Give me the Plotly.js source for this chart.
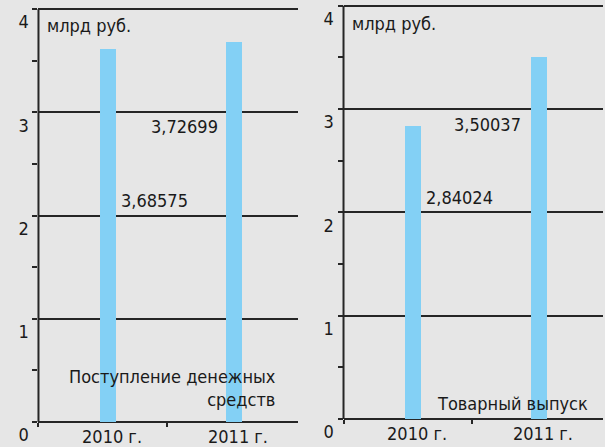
<!DOCTYPE html>
<html>
<head>
<meta charset="utf-8">
<script src="https://cdn.plot.ly/plotly-3.0.1.min.js"></script>
<style>html,body{margin:0;padding:0;background:#e6e6e6;}#chart{width:605px;height:447px;}</style>
</head>
<body>
<div id="chart"></div>
<script>
// Data
const categories = ['2010 г.', '2011 г.'];
const cashValues = [3.61, 3.68];          // drawn bar heights, млрд руб.
const cashLabels = ['3,68575', '3,72699'];
const outputValues = [2.84, 3.50];
const outputLabels = ['2,84024', '3,50037'];
const yTickVals = [0, 1, 2, 3, 4];
const yTickText = ['0', '1', '2', '3', '4'];
const unitText = 'млрд руб.';
const cashTitle = 'Поступление денежных<br>средств';
const outputTitle = 'Товарный выпуск';

const idx = categories.map((c, i) => i);
const FONT = '"DejaVu Sans Condensed", "Liberation Sans Narrow", "Roboto", sans-serif';
const TXT = '#1a1a1a';
const BAR = '#83d0f5';
const BG = '#e6e6e6';
const LINE = '#262626';

const traces = [
  {type: 'bar', x: idx, y: cashValues, width: 0.127, marker: {color: BAR}, xaxis: 'x', yaxis: 'y', hoverinfo: 'skip'},
  {type: 'bar', x: idx, y: outputValues, width: 0.127, marker: {color: BAR}, xaxis: 'x2', yaxis: 'y2', hoverinfo: 'skip'}
];

function xAx(domain, anchor, standoff) {
  return {
    domain: domain, anchor: anchor, range: [-0.552, 1.508],
    tickvals: idx, ticktext: categories, ticks: '', showgrid: false, zeroline: false,
    showline: false, ticklabelshift: 4, ticklabelstandoff: standoff,
    tickfont: {family: FONT, size: 18, color: TXT},
    minor: {tickvals: [-0.552, 0.47], ticks: 'outside', ticklen: 4, tickwidth: 2, tickcolor: LINE, showgrid: false}
  };
}
function yAx(domain, anchor) {
  return {
    domain: domain, anchor: anchor, range: [0, 4.05],
    tickvals: yTickVals, ticktext: yTickText, ticks: 'outside', ticklen: 5, tickwidth: 2, tickcolor: LINE,
    showgrid: true, gridcolor: LINE, gridwidth: 2, zeroline: true, zerolinecolor: LINE, zerolinewidth: 2,
    showline: false,
    ticklabelshift: 13, ticklabelstandoff: 0,
    tickfont: {family: FONT, size: 18, color: TXT},
    minor: {dtick: 0.5, ticks: 'outside', ticklen: 5, tickwidth: 2, tickcolor: LINE, showgrid: false}
  };
}

const annFont = {family: FONT, size: 18, color: TXT};
const annotations = [
  {xref: 'x', yref: 'y', x: -0.5, y: 3.845, text: unitText, showarrow: false, xanchor: 'left', yanchor: 'middle', font: annFont},
  {xref: 'x2', yref: 'y2', x: -0.5, y: 3.83, text: unitText, showarrow: false, xanchor: 'left', yanchor: 'middle', font: annFont},
  {xref: 'x', yref: 'y', x: idx[0], xshift: 11, y: 2.15, text: cashLabels[0], showarrow: false, xanchor: 'left', yanchor: 'middle', font: annFont},
  {xref: 'x', yref: 'y', x: idx[1], xshift: -14, y: 2.86, text: cashLabels[1], showarrow: false, xanchor: 'right', yanchor: 'middle', font: annFont},
  {xref: 'x2', yref: 'y2', x: idx[0], xshift: 11, y: 2.14, text: outputLabels[0], showarrow: false, xanchor: 'left', yanchor: 'middle', font: annFont},
  {xref: 'x2', yref: 'y2', x: idx[1], xshift: -16, y: 2.85, text: outputLabels[1], showarrow: false, xanchor: 'right', yanchor: 'middle', font: annFont},
  {xref: 'x', yref: 'y', x: 1.349, y: 0.33, text: cashTitle, showarrow: false, xanchor: 'right', yanchor: 'middle', align: 'right', font: annFont},
  {xref: 'x2', yref: 'y2', x: 1.405, y: 0.15, text: outputTitle, showarrow: false, xanchor: 'right', yanchor: 'middle', font: annFont}
];

// y-axis spines: from slightly below 0 up to 4, drawn in axis-relative coordinates
const shapes = [
  {type: 'line', xref: 'x domain', yref: 'y', x0: 0, x1: 0, y0: -0.04, y1: 4, line: {color: LINE, width: 2}},
  {type: 'line', xref: 'x2 domain', yref: 'y2', x0: 0, x1: 0, y0: -0.04, y1: 4, line: {color: LINE, width: 2}}
];

const layout = {
  width: 605, height: 447,
  margin: {l: 0, r: 0, t: 0, b: 0},
  paper_bgcolor: BG, plot_bgcolor: BG,
  showlegend: false, bargap: 0,
  xaxis: xAx([0.0636, 0.4926], 'y', 2),
  yaxis: yAx([0.0559, 0.9914], 'x'),
  xaxis2: xAx([0.5678, 0.9967], 'y2', 2),
  yaxis2: yAx([0.0626, 0.9986], 'x2'),
  annotations: annotations,
  shapes: shapes
};

Plotly.newPlot('chart', traces, layout, {staticPlot: true, displayModeBar: false});
</script>
</body>
</html>
